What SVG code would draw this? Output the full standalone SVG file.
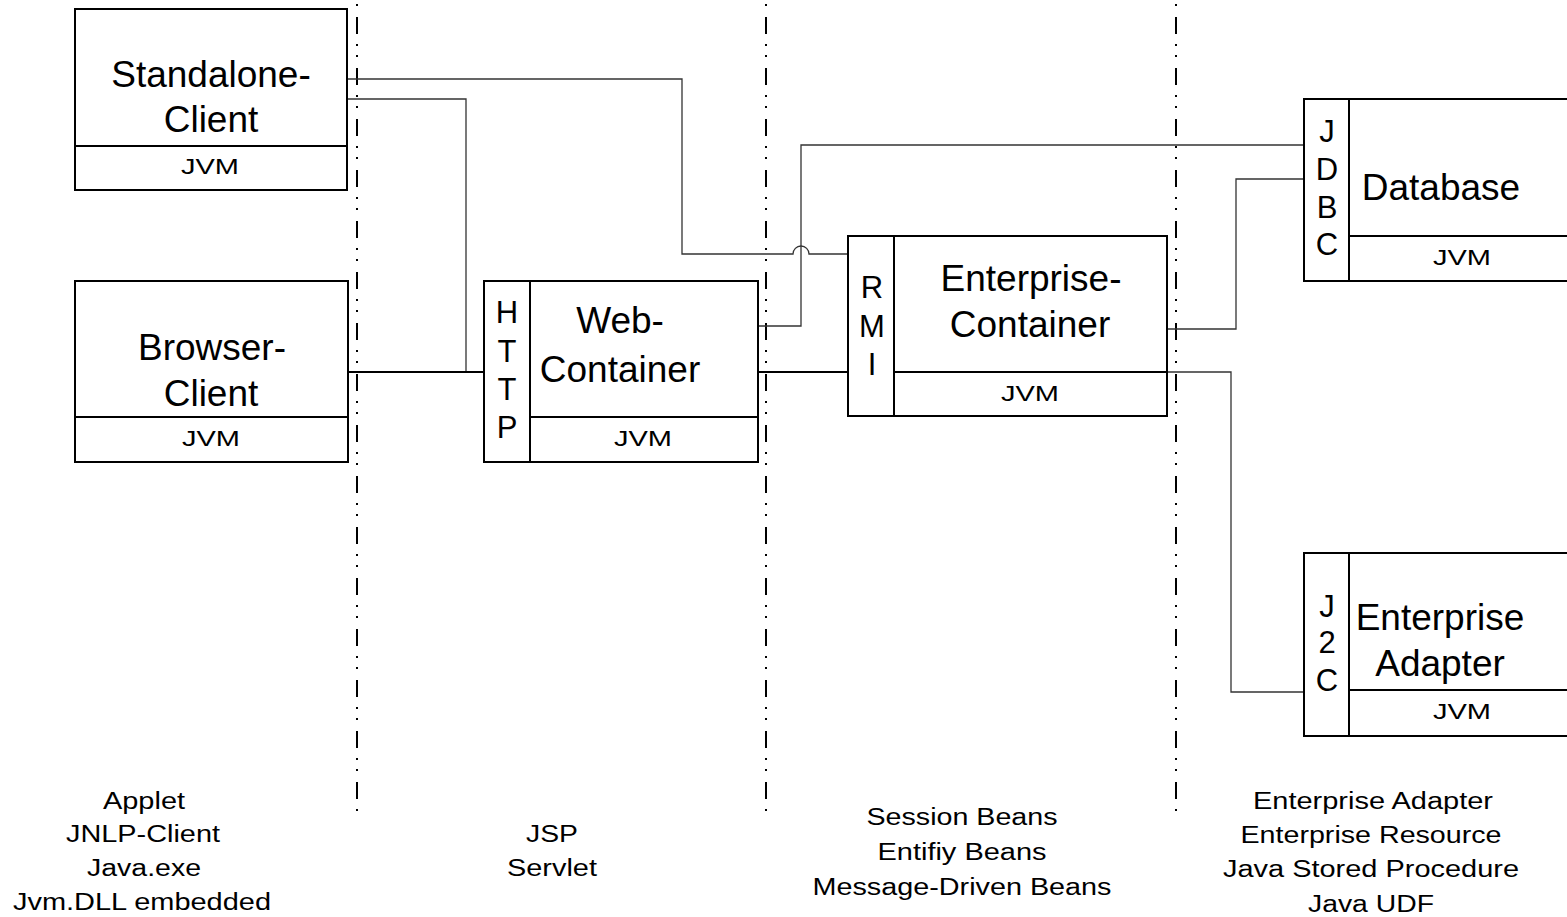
<svg xmlns="http://www.w3.org/2000/svg" width="1567" height="917" viewBox="0 0 1567 917">
<style>
.box{fill:#fff;stroke:#000;stroke-width:2}
.dv{stroke:#000;stroke-width:2;fill:none}
text{font-family:"Liberation Sans",Arial,sans-serif;fill:#000}
.title{font-size:37px;text-anchor:middle}
.jvm{font-size:22px;text-anchor:middle}
.band{font-size:31px;text-anchor:middle}
.lbl{font-size:23px;text-anchor:middle}
.sep{stroke:#000;stroke-width:2;stroke-dasharray:17 10 2 9 2 11;stroke-dashoffset:34;fill:none}
.c{fill:none;stroke:#333;stroke-width:1.3}
.ct{fill:none;stroke:#000;stroke-width:2}
</style>
<rect x="0" y="0" width="1567" height="917" fill="#fff"/>
<g id="separators">
<line class="sep" x1="357" y1="0" x2="357" y2="818"/>
<line class="sep" x1="766" y1="0" x2="766" y2="818"/>
<line class="sep" x1="1176" y1="0" x2="1176" y2="818"/>
</g>
<g id="connectors">
<path class="c" d="M347,79 H682 V254 H793 A8,8 0 0 1 809,254 H848"/>
<path class="c" d="M347,99 H466 V372"/>
<path class="ct" d="M347,372 H484"/>
<path class="ct" d="M757,372 H848"/>
<path class="c" d="M757,326 H801 V145 H1304"/>
<path class="c" d="M1167,329 H1236 V179 H1304"/>
<path class="c" d="M1167,372 H1231 V692 H1304"/>
</g>
<g id="standalone-client">
<rect class="box" x="75" y="9" width="272" height="181"/>
<line class="dv" x1="75" y1="146" x2="347" y2="146"/>
<text class="title" x="211" y="87">Standalone-</text>
<text class="title" x="211" y="132">Client</text>
<text class="jvm" x="210" y="174" textLength="58" lengthAdjust="spacingAndGlyphs">JVM</text>
</g>
<g id="browser-client">
<rect class="box" x="75" y="281" width="273" height="181"/>
<line class="dv" x1="75" y1="417" x2="348" y2="417"/>
<text class="title" x="212" y="360">Browser-</text>
<text class="title" x="211" y="406">Client</text>
<text class="jvm" x="211" y="446" textLength="58" lengthAdjust="spacingAndGlyphs">JVM</text>
</g>
<g id="web-container">
<rect class="box" x="484" y="281" width="274" height="181"/>
<line class="dv" x1="530" y1="281" x2="530" y2="462"/>
<line class="dv" x1="530" y1="417" x2="758" y2="417"/>
<text class="band" x="507" y="323">H</text>
<text class="band" x="507" y="362">T</text>
<text class="band" x="507" y="400">T</text>
<text class="band" x="507" y="438">P</text>
<text class="title" x="620" y="333">Web-</text>
<text class="title" x="620" y="382">Container</text>
<text class="jvm" x="643" y="446" textLength="58" lengthAdjust="spacingAndGlyphs">JVM</text>
</g>
<g id="enterprise-container">
<rect class="box" x="848" y="236" width="319" height="180"/>
<line class="dv" x1="894" y1="236" x2="894" y2="416"/>
<line class="dv" x1="894" y1="372" x2="1167" y2="372"/>
<text class="band" x="872" y="298">R</text>
<text class="band" x="872" y="337">M</text>
<text class="band" x="872" y="375">I</text>
<text class="title" x="1031" y="291">Enterprise-</text>
<text class="title" x="1030" y="337">Container</text>
<text class="jvm" x="1030" y="401" textLength="58" lengthAdjust="spacingAndGlyphs">JVM</text>
</g>
<g id="database">
<rect class="box" x="1304" y="99" width="290" height="182"/>
<line class="dv" x1="1349" y1="99" x2="1349" y2="281"/>
<line class="dv" x1="1349" y1="236" x2="1594" y2="236"/>
<text class="band" x="1327" y="142">J</text>
<text class="band" x="1327" y="180">D</text>
<text class="band" x="1327" y="218">B</text>
<text class="band" x="1327" y="255">C</text>
<text class="title" x="1441" y="200">Database</text>
<text class="jvm" x="1462" y="265" textLength="58" lengthAdjust="spacingAndGlyphs">JVM</text>
</g>
<g id="enterprise-adapter">
<rect class="box" x="1304" y="553" width="290" height="183"/>
<line class="dv" x1="1349" y1="553" x2="1349" y2="736"/>
<line class="dv" x1="1349" y1="690" x2="1594" y2="690"/>
<text class="band" x="1327" y="617">J</text>
<text class="band" x="1327" y="653">2</text>
<text class="band" x="1327" y="691">C</text>
<text class="title" x="1440" y="630">Enterprise</text>
<text class="title" x="1440" y="676">Adapter</text>
<text class="jvm" x="1462" y="719" textLength="58" lengthAdjust="spacingAndGlyphs">JVM</text>
</g>
<g id="labels">
<text class="lbl" x="144" y="809" textLength="82" lengthAdjust="spacingAndGlyphs">Applet</text>
<text class="lbl" x="143" y="842" textLength="154" lengthAdjust="spacingAndGlyphs">JNLP-Client</text>
<text class="lbl" x="144" y="876" textLength="114" lengthAdjust="spacingAndGlyphs">Java.exe</text>
<text class="lbl" x="142" y="910" textLength="258" lengthAdjust="spacingAndGlyphs">Jvm.DLL embedded</text>
<text class="lbl" x="552" y="842" textLength="52" lengthAdjust="spacingAndGlyphs">JSP</text>
<text class="lbl" x="552" y="876" textLength="90" lengthAdjust="spacingAndGlyphs">Servlet</text>
<text class="lbl" x="962" y="825" textLength="191" lengthAdjust="spacingAndGlyphs">Session Beans</text>
<text class="lbl" x="962" y="860" textLength="169" lengthAdjust="spacingAndGlyphs">Entifiy Beans</text>
<text class="lbl" x="962" y="895" textLength="299" lengthAdjust="spacingAndGlyphs">Message-Driven Beans</text>
<text class="lbl" x="1373" y="809" textLength="240" lengthAdjust="spacingAndGlyphs">Enterprise Adapter</text>
<text class="lbl" x="1371" y="843" textLength="261" lengthAdjust="spacingAndGlyphs">Enterprise Resource</text>
<text class="lbl" x="1371" y="877" textLength="296" lengthAdjust="spacingAndGlyphs">Java Stored Procedure</text>
<text class="lbl" x="1371" y="912" textLength="126" lengthAdjust="spacingAndGlyphs">Java UDF</text>
</g>
</svg>
